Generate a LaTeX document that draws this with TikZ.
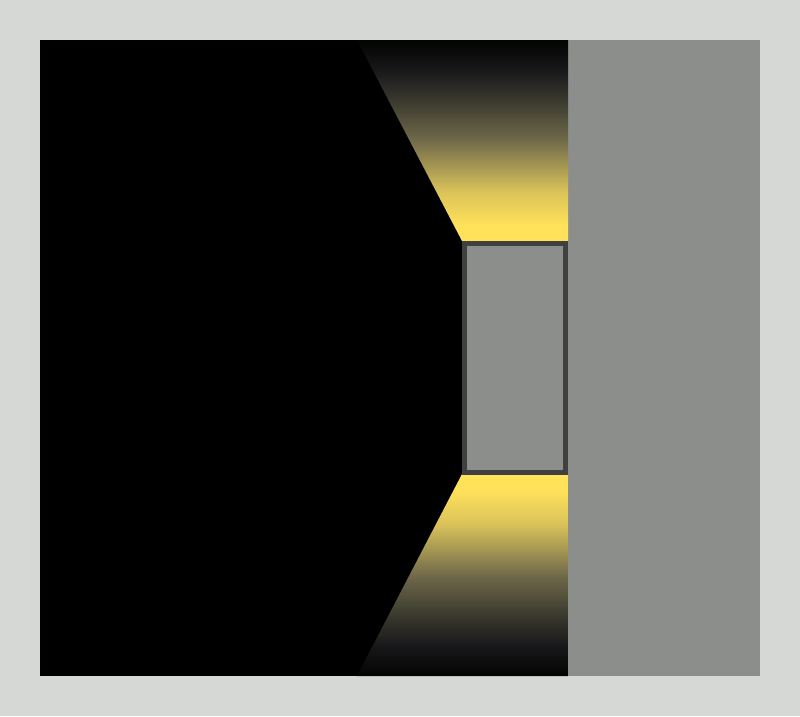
\documentclass[tikz,border=0pt]{standalone}
\usepackage{tikz}
\definecolor{bgc}{HTML}{D6D8D6}
\definecolor{wallc}{HTML}{8C8E8C}
\definecolor{edgec}{HTML}{404040}
\definecolor{beamc}{HTML}{FFE15A}
\definecolor{bA}{HTML}{D9C25A}
\definecolor{bB}{HTML}{706A4A}
\definecolor{bC}{HTML}{3A392E}
\definecolor{bD}{HTML}{18181A}
\definecolor{bE}{HTML}{030303}
\pgfdeclareverticalshading{beamup}{100bp}{
  color(0bp)=(beamc); color(25bp)=(beamc); color(29bp)=(beamc);
  color(37.5bp)=(bA); color(50bp)=(bB); color(60bp)=(bC);
  color(67.5bp)=(bD); color(75bp)=(bE); color(100bp)=(bE)}
\pgfdeclareverticalshading{beamdown}{100bp}{
  color(0bp)=(bE); color(25bp)=(bE); color(32.5bp)=(bD);
  color(40bp)=(bC); color(50bp)=(bB); color(62.5bp)=(bA);
  color(71bp)=(beamc); color(75bp)=(beamc); color(100bp)=(beamc)}
\tikzset{
  wall/.style={fill=wallc, draw=none},
  fixture/.style={fill=wallc, draw=edgec, line width=5pt, outer sep=0pt, inner sep=0pt},
}
\begin{document}
\begin{tikzpicture}[x=1pt,y=-1pt]
\fill[bgc] (0,0) rectangle (800,716);
\useasboundingbox (0,0) rectangle (800,716);
\fill[black] (40,40) rectangle (568,676);
\fill[wall] (568,40) rectangle (760,676);
\shade[shading=beamup] (357,40) -- (568,40) -- (568,241) -- (462,241) -- cycle;
\shade[shading=beamdown] (462,474) -- (568,474) -- (568,676) -- (357,676) -- cycle;
\node[fixture, minimum width=101pt, minimum height=229pt, anchor=north west] (box) at (464.5,243) {};
\end{tikzpicture}
\end{document}
